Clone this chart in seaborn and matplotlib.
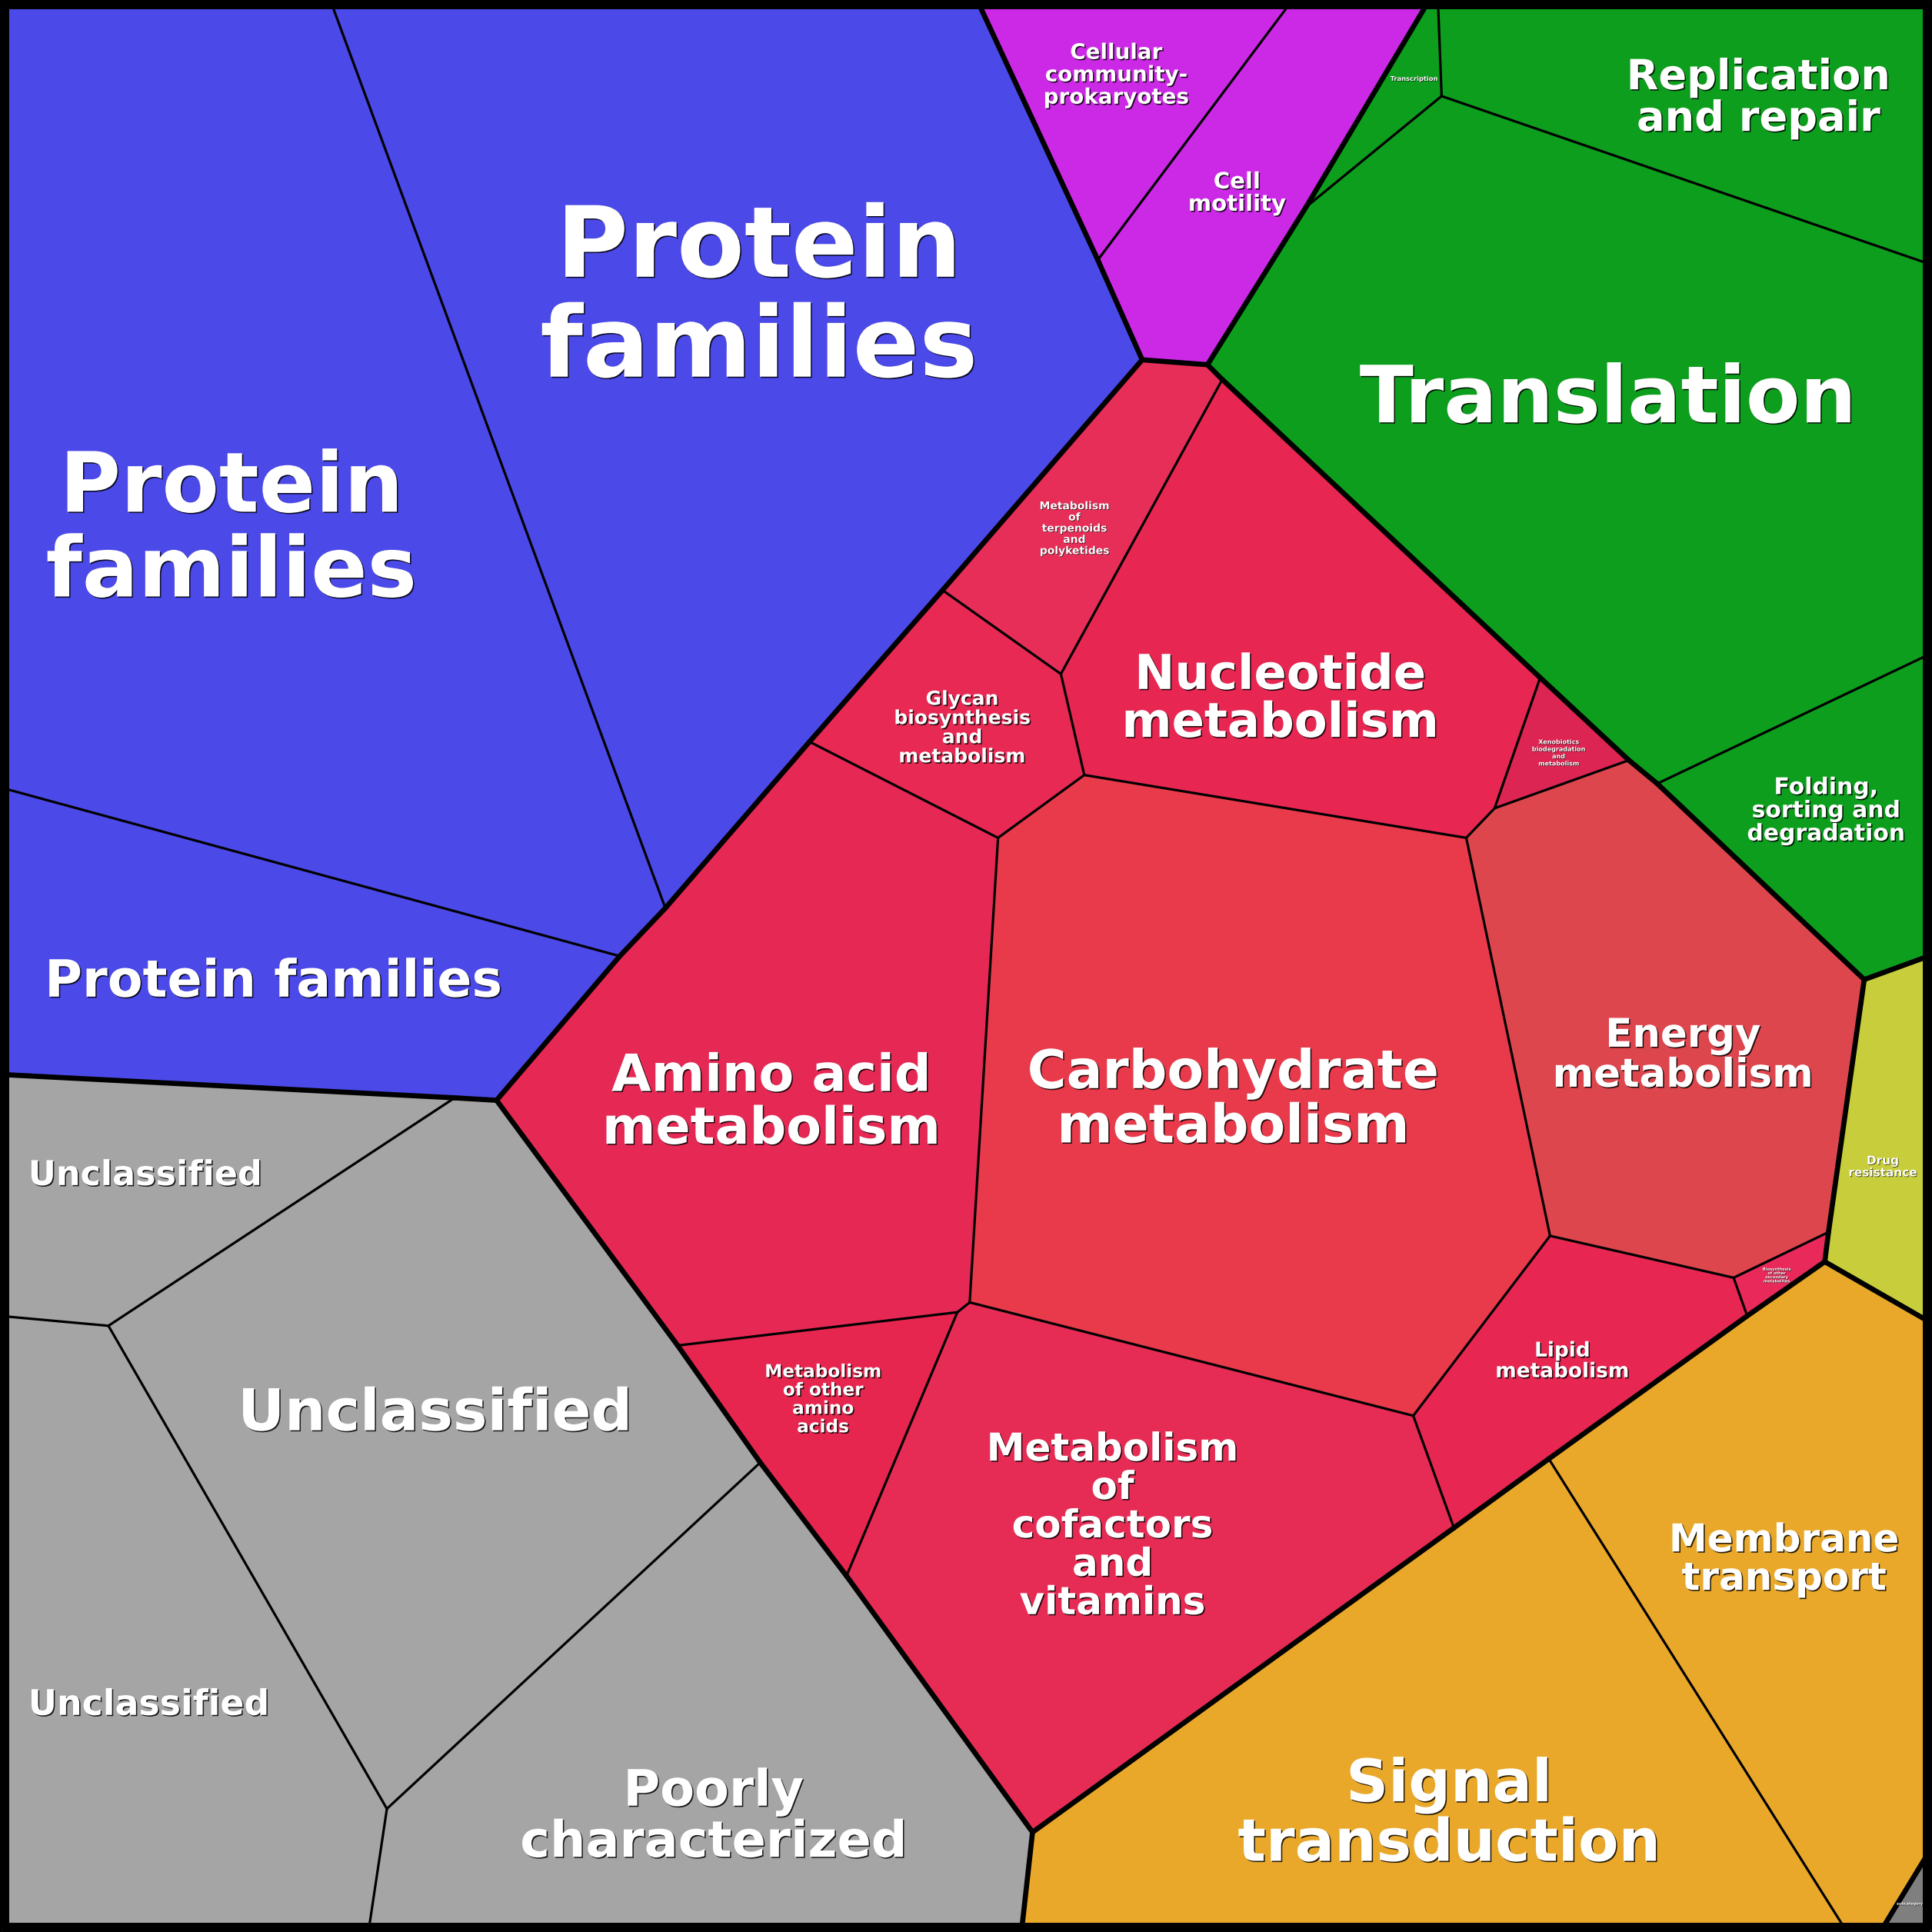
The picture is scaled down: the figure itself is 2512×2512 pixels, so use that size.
#!/usr/bin/env python3
import matplotlib
matplotlib.use("Agg")
import matplotlib.pyplot as plt
import matplotlib.patheffects as pe
from matplotlib.patches import Polygon, Rectangle
import seaborn as sns

# ---- data: KEGG-style hierarchy shown as a voronoi treemap ----
GROUP_NAMES = [
    "Brite Hierarchies",
    "Cellular Processes",
    "Genetic Information Processing",
    "Metabolism",
    "Human Diseases",
    "Environmental Information Processing",
    "Other",
    "Not Included in Pathway or Brite",
]
GROUP_COLORS = ["#4b49e8", "#cc29e6", "#0d9e1d", "#e62954",
                "#c8ce3b", "#e9a82a", "#7f7f7f", "#a6a5a6"]

CELL_LABELS = [
    "Protein\nfamilies", "Protein\nfamilies", "Protein families",
    "Cellular\ncommunity-\nprokaryotes", "Cell\nmotility",
    "Transcription", "Replication\nand repair", "Translation",
    "Folding,\nsorting and\ndegradation",
    "Metabolism\nof\nterpenoids\nand\npolyketides",
    "Glycan\nbiosynthesis\nand\nmetabolism",
    "Nucleotide\nmetabolism",
    "Xenobiotics\nbiodegradation\nand\nmetabolism",
    "Energy\nmetabolism", "Carbohydrate\nmetabolism",
    "Biosynthesis\nof other\nsecondary\nmetabolites",
    "Lipid\nmetabolism", "Amino acid\nmetabolism",
    "Metabolism\nof other\namino\nacids",
    "Metabolism\nof\ncofactors\nand\nvitamins",
    "Drug\nresistance",
    "Membrane\ntransport", "Signal\ntransduction",
    "subcategory",
    "Unclassified", "Unclassified", "Unclassified",
    "Poorly\ncharacterized",
]
CELL_GROUPS = [0, 0, 0, 1, 1, 2, 2, 2, 2,
               3, 3, 3, 3, 3, 3, 3, 3, 3, 3, 3,
               4, 5, 5, 6, 7, 7, 7, 7]
CELL_COLORS = [
    "#4b49e8", "#4b49e8", "#4b49e8", "#cc29e6", "#cc29e6",
    "#0d9e1d", "#0d9e1d", "#0d9e1d", "#0d9e1d",
    "#e62e58", "#e72954", "#e72752", "#dc2552", "#de464e", "#e83a4b",
    "#e9295a", "#e72752", "#e62954", "#e7264f", "#e62c55",
    "#c8ce3b", "#e9a82a", "#e9a82a", "#7f7f7f",
    "#a6a5a6", "#a6a5a6", "#a6a5a6", "#a6a5a6",
]

# ---- layout (canvas is 1568 x 1568, y down) ----
SIDE = 1568
JUNCTIONS = {
    "TL": (0, 0), "TR": (SIDE, 0), "BR": (SIDE, SIDE), "BL": (0, SIDE),
    "T1": (268, 0), "T2": (793, 0), "T3": (1049, 0), "T4": (1160, 0), "T5": (1167, 0),
    "R1": (SIDE, 215), "R2": (SIDE, 530), "R3": (SIDE, 775), "R4": (SIDE, 1074),
    "R5": (SIDE, 1499),
    "G1": (1499, SIDE), "G2": (1526, SIDE), "G3": (829, SIDE), "G4": (299, SIDE),
    "L1": (0, 639), "L2": (0, 872), "L3": (0, 1068),
    "P1": (540, 737), "P2": (503, 776), "P3": (403, 893), "P4": (369, 891),
    "P5": (88, 1076), "P6": (314, 1468), "P7": (617, 1187), "P8": (550, 1092),
    "P9": (838, 1487), "P10": (687, 1279), "P11": (777, 1065), "P12": (787, 1057),
    "P13": (1147, 1149), "P14": (1180, 1240), "P15": (1257, 1184),
    "P16": (1418, 1068), "P17": (1481, 1024), "P18": (1484, 1000),
    "P19": (1407, 1037), "P20": (1258, 1003), "P21": (1190, 680),
    "P22": (1213, 656), "P23": (1322, 617), "P24": (1250, 550),
    "P25": (1345, 636), "P26": (1513, 795), "P27": (980, 296), "P28": (927, 292),
    "P29": (992, 308), "P30": (861, 547), "P31": (765, 479), "P32": (880, 629),
    "P33": (810, 680), "P34": (657, 602), "P35": (891, 211), "P36": (1060, 168),
    "P37": (1170, 78),
}
CELL_OUTLINES = [
    ["TL", "T1", "P1", "P2", "L1"],
    ["T1", "T2", "P35", "P28", "P31", "P34", "P1"],
    ["L1", "P2", "P3", "P4", "L2"],
    ["T2", "T3", "P35"],
    ["T3", "T4", "P36", "P27", "P28", "P35"],
    ["T4", "T5", "P37", "P36"],
    ["T5", "TR", "R1", "P37"],
    ["P36", "P37", "R1", "R2", "P25", "P23", "P24", "P29", "P27"],
    ["P25", "R2", "R3", "P26"],
    ["P28", "P27", "P29", "P30", "P31"],
    ["P31", "P30", "P32", "P33", "P34"],
    ["P29", "P24", "P22", "P21", "P32", "P30"],
    ["P24", "P23", "P22"],
    ["P23", "P25", "P26", "P18", "P19", "P20", "P21", "P22"],
    ["P32", "P21", "P20", "P13", "P12", "P33"],
    ["P19", "P18", "P17", "P16"],
    ["P20", "P19", "P16", "P15", "P14", "P13"],
    ["P34", "P33", "P12", "P11", "P8", "P3", "P2", "P1"],
    ["P8", "P11", "P10", "P7"],
    ["P11", "P12", "P13", "P14", "P9", "P10"],
    ["P26", "R3", "R4", "P17", "P18"],
    ["P17", "R4", "R5", "G2", "G1", "P15", "P16"],
    ["P15", "G1", "G3", "P9", "P14"],
    ["R5", "BR", "G2"],
    ["L2", "P4", "P5", "L3"],
    ["P4", "P3", "P8", "P7", "P6", "P5"],
    ["L3", "P5", "P6", "G4", "BL"],
    ["P6", "P7", "P10", "P9", "G3", "G4"],
]
LABEL_POS = [
    (188, 431), (616, 243), (222, 797), (906, 61), (1004, 157),
    (1148, 64), (1427, 80), (1305, 325), (1482, 658),
    (872, 429), (781, 591), (1039, 568), (1265, 611), (1366, 857),
    (1001, 893), (1442, 1035), (1268, 1105), (626, 895), (668, 1136),
    (903, 1239), (1528, 947), (1448, 1266), (1176, 1473), (1550, 1545),
    (118, 954), (353, 1148), (121, 1384), (579, 1475),
]
LABEL_SIZE = [
    78, 92, 48, 20, 21,
    6, 39, 74, 21.5,
    10, 18, 45, 5.8, 37,
    50, 3.7, 19, 48, 16.7,
    36, 11, 36, 55, 3.5,
    32, 54, 33, 47,
]

sns.set_theme(style="white")
plt.rcParams["font.family"] = ["DejaVu Sans"]

fig = plt.figure(figsize=(25.12, 25.12), dpi=100)
ax = fig.add_axes([0, 0, 1, 1])
ax.set_xlim(0, SIDE)
ax.set_ylim(SIDE, 0)
ax.axis("off")

# cell fills
for outline, color in zip(CELL_OUTLINES, CELL_COLORS):
    pts = [JUNCTIONS[k] for k in outline]
    ax.add_patch(Polygon(pts, closed=True, facecolor=color, edgecolor="none", lw=0))

# edges: thick where two different top-level groups meet
edge_groups = {}
for outline, grp in zip(CELL_OUTLINES, CELL_GROUPS):
    for a, b in zip(outline, outline[1:] + outline[:1]):
        edge_groups.setdefault(frozenset((a, b)), set()).add(grp)

thin, thick = [], []
for edge, grps in edge_groups.items():
    (thick if len(grps) > 1 else thin).append(tuple(edge))

for a, b in thin:
    (x0, y0), (x1, y1) = JUNCTIONS[a], JUNCTIONS[b]
    ax.plot([x0, x1], [y0, y1], color="black", lw=2.3, solid_capstyle="round")
for a, b in thick:
    (x0, y0), (x1, y1) = JUNCTIONS[a], JUNCTIONS[b]
    ax.plot([x0, x1], [y0, y1], color="black", lw=4.8, solid_capstyle="round")

# outer frame
inset = 3.75
ax.add_patch(Rectangle((inset, inset), SIDE - 2 * inset, SIDE - 2 * inset,
                       fill=False, edgecolor="black", lw=8.6, joinstyle="round"))

# labels: white bold text with a thin dark drop shadow
for label, (x, y), size in zip(CELL_LABELS, LABEL_POS, LABEL_SIZE):
    off = 1.1 if size > 15 else 0.5
    effects = [
        pe.SimplePatchShadow(offset=(off, -off), shadow_rgbFace="black", alpha=0.85),
        pe.Normal(),
    ]
    ax.text(x, y, label, ha="center", va="center", multialignment="center",
            fontsize=size, fontweight="bold", color="white", linespacing=1.05,
            path_effects=effects)

fig.savefig("out.png", dpi=100)
